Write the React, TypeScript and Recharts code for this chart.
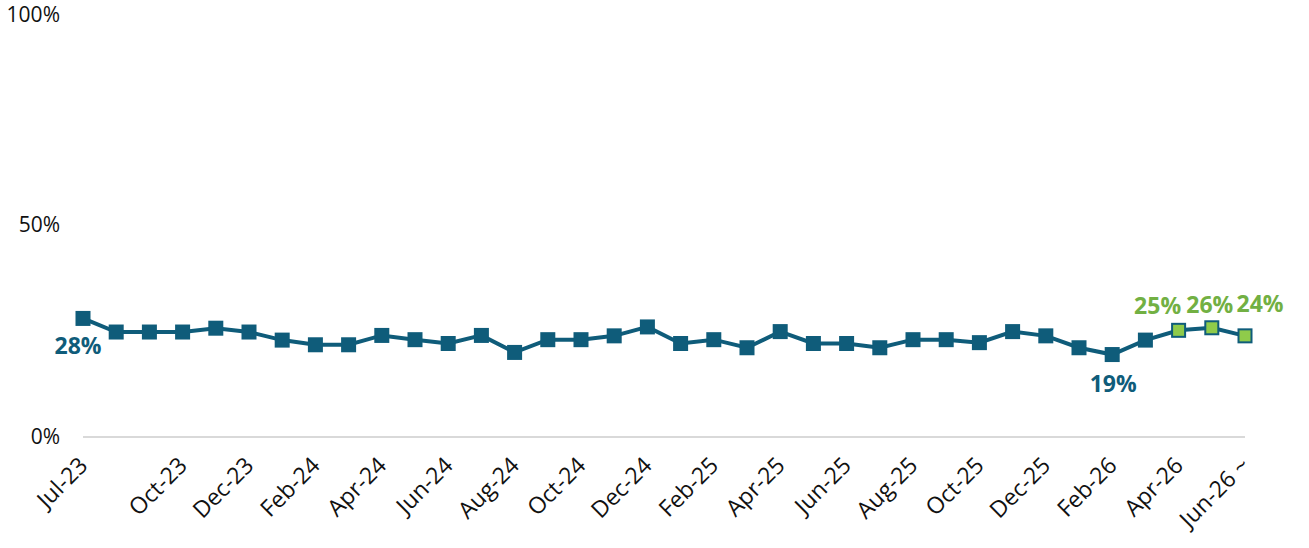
import { LabelList, Line, LineChart, XAxis, YAxis } from "recharts";

const months = [
  "Jul-23", "Aug-23", "Sep-23", "Oct-23", "Nov-23", "Dec-23",
  "Jan-24", "Feb-24", "Mar-24", "Apr-24", "May-24", "Jun-24",
  "Jul-24", "Aug-24", "Sep-24", "Oct-24", "Nov-24", "Dec-24",
  "Jan-25", "Feb-25", "Mar-25", "Apr-25", "May-25", "Jun-25",
  "Jul-25", "Aug-25", "Sep-25", "Oct-25", "Nov-25", "Dec-25",
  "Jan-26", "Feb-26", "Mar-26", "Apr-26", "May-26", "Jun-26 ~",
];

const shareValues = [
  27.9, 24.7, 24.7, 24.7, 25.6, 24.7,
  22.8, 21.7, 21.7, 23.9, 22.9, 22.0,
  23.9, 19.9, 22.9, 22.9, 23.8, 25.9,
  22.0, 22.9, 21.0, 24.8, 22.0, 22.0,
  21.0, 22.9, 22.9, 22.2, 24.8, 23.8,
  21.0, 19.4, 22.8, 25.1, 25.7, 23.8,
];

const tickMonths = [
  "Jul-23", "Oct-23", "Dec-23", "Feb-24", "Apr-24", "Jun-24", "Aug-24",
  "Oct-24", "Dec-24", "Feb-25", "Apr-25", "Jun-25", "Aug-25", "Oct-25",
  "Dec-25", "Feb-26", "Apr-26", "Jun-26 ~",
];

const yTicks = [0, 50, 100];

// months from this index on are projections (green markers)
const FORECAST_FROM = 33;
const LABELLED = [0, 31, 33, 34, 35];

const TEAL = "#0f5c7a";
const GREEN_FILL = "#8fcb4a";
const GREEN_TEXT = "#72b043";

// hand placement of the value labels, relative to their point
const labelOffset: Record<number, [number, number]> = {
  0: [-5, 28],
  31: [1, 29],
  33: [-21, -24],
  34: [-2, -23],
  35: [15, -32],
};

const rows = months.map((month, i) => ({ month, value: shareValues[i] }));

function SquareDot(props: any) {
  const { cx, cy, index } = props;
  if (cx == null || cy == null) return null;
  const forecast = index >= FORECAST_FROM;
  const s = forecast ? 13 : 15;
  return (
    <rect
      key={`dot-${index}`}
      x={cx - s / 2}
      y={cy - s / 2}
      width={s}
      height={s}
      fill={forecast ? GREEN_FILL : TEAL}
      stroke={forecast ? TEAL : "none"}
      strokeWidth={2}
    />
  );
}

function ValueLabel(props: any) {
  const { x, y, index, value } = props;
  if (!LABELLED.includes(index)) return null;
  const [dx, dy] = labelOffset[index] ?? [0, -20];
  return (
    <text
      x={x + dx}
      y={y + dy}
      dy="0.35em"
      textAnchor="middle"
      fontSize={23}
      fontWeight={700}
      fill={index >= FORECAST_FROM ? GREEN_TEXT : TEAL}
    >
      {`${Math.round(value)}%`}
    </text>
  );
}

function MonthTick(props: any) {
  const { x, y, payload } = props;
  const px = x + 6;
  const py = y + 30;
  return (
    <text
      x={px}
      y={py}
      textAnchor="end"
      fontSize={23}
      fill="#111"
      transform={`rotate(-45, ${px}, ${py})`}
    >
      {payload.value}
    </text>
  );
}

function PercentTick(props: any) {
  const { x, y, payload } = props;
  // keep the top label inside the page
  const ty = Math.max(y, 15);
  return (
    <text x={x} y={ty} dy="0.355em" textAnchor="end" fontSize={21} fill="#111">
      {`${payload.value}%`}
    </text>
  );
}

export default function App() {
  return (
    <div
      style={{
        position: "absolute",
        left: 0,
        top: 0,
        width: 1309,
        height: 548,
        background: "#fff",
        fontFamily: "'Open Sans', sans-serif",
      }}
    >
      <LineChart
        width={1309}
        height={548}
        data={rows}
        margin={{ top: 12, right: 64, left: 0, bottom: 0 }}
      >
        <XAxis
          dataKey="month"
          ticks={tickMonths}
          interval={0}
          tick={<MonthTick />}
          tickLine={false}
          tickSize={0}
          tickMargin={0}
          axisLine={{ stroke: "#d9d9d9", strokeWidth: 2 }}
          height={111}
        />
        <YAxis
          domain={[0, 100]}
          ticks={yTicks}
          width={83}
          axisLine={false}
          tickLine={false}
          tickSize={0}
          tickMargin={23}
          tick={<PercentTick />}
        />
        <Line
          dataKey="value"
          stroke={TEAL}
          strokeWidth={4}
          dot={SquareDot}
          activeDot={false}
          isAnimationActive={false}
        >
          <LabelList dataKey="value" content={ValueLabel} />
        </Line>
      </LineChart>
    </div>
  );
}
